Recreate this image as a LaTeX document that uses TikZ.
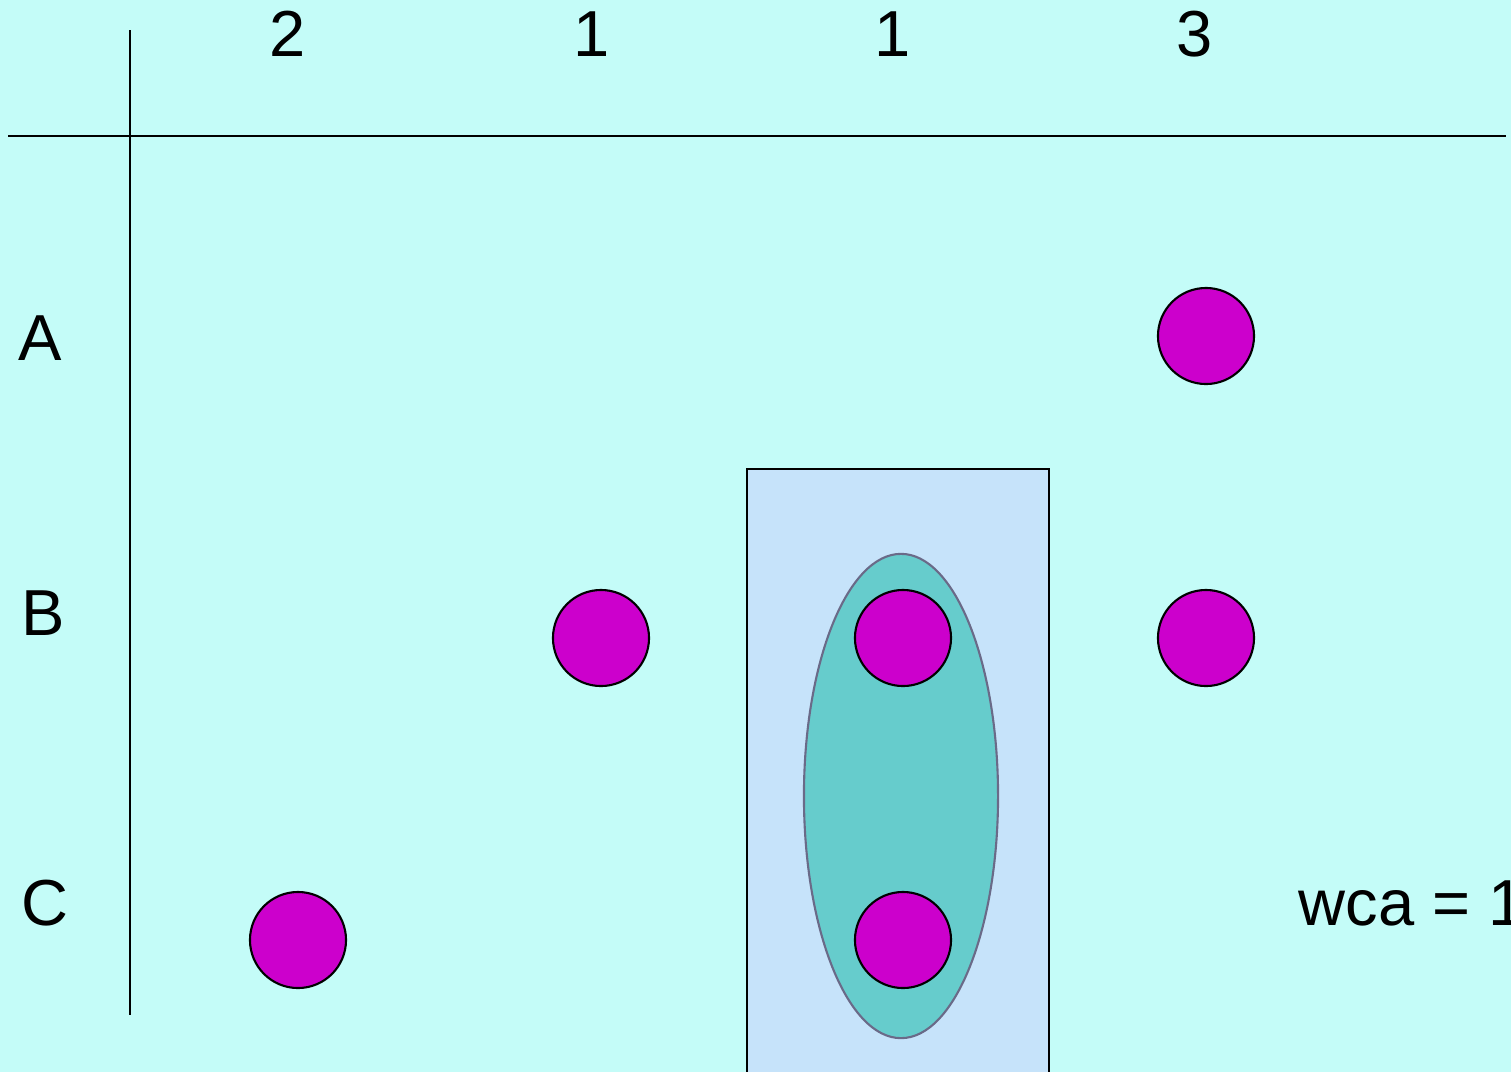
\documentclass[tikz,border=0pt]{standalone}
\usepackage{fontspec}
\setmainfont{Liberation Sans}
\usepackage{tikz}
\usetikzlibrary{shapes.geometric}
\definecolor{bgcyan}{HTML}{C4FCF8}
\definecolor{colblue}{HTML}{C6E3FA}
\definecolor{grpteal}{HTML}{66CCCC}
\definecolor{grpedge}{HTML}{6A6A88}
\definecolor{dotmag}{HTML}{CC00CC}

\begin{document}
\begin{tikzpicture}[x=0.01cm,y=-0.01cm,
  lbl/.style={inner sep=0pt,font=\fontsize{18.5}{22}\selectfont},
  dot/.style={draw,circle,fill=dotmag,line width=0.6pt,minimum size=0.96cm,inner sep=0pt}]
\useasboundingbox (0,0) rectangle (1511,1072);
\fill[bgcyan] (0,0) rectangle (1511,1072);
\clip (0,0) rectangle (1511,1072);
% axes
\coordinate (vtop) at (130,30);
\coordinate (vbot) at (130,1015);
\coordinate (hleft) at (8,136);
\coordinate (hright) at (1506,136);
\draw[line width=0.6pt] (vtop) -- (vbot);
\draw[line width=0.6pt] (hleft) -- (hright);
% column and row labels
\node[lbl] (c1) at (288,34) {2};
\node[lbl] (c2) at (592,34) {1};
\node[lbl] (c3) at (893,34) {1};
\node[lbl] (c4) at (1195,34) {3};
\node[lbl] (rA) at (40,338) {A};
\node[lbl] (rB) at (43,613) {B};
\node[lbl] (rC) at (45,903) {C};
% highlighted column
\draw[fill=colblue,line width=0.8pt] (747,469) rectangle (1049,1085);
\node[draw=grpedge,fill=grpteal,ellipse,line width=0.6pt,minimum width=1.94cm,minimum height=4.84cm,inner sep=0pt] (grp) at (901,796) {};
% dots
\node[dot] (a4) at (1206,336) {};
\node[dot] (b2) at (601,638) {};
\node[dot] (b3) at (903,638) {};
\node[dot] (b4) at (1206,638) {};
\node[dot] (c1dot) at (298,940) {};
\node[dot] (c3dot) at (903,940) {};
\node[lbl,anchor=west] (wca) at (1298,903) {wca = 1};
\end{tikzpicture}
\end{document}
